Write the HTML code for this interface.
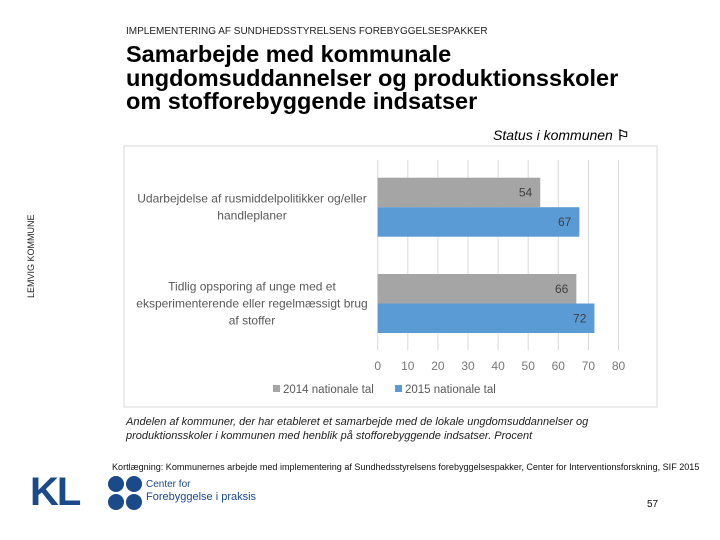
<!DOCTYPE html>
<html><head><meta charset="utf-8"><style>
body{margin:0;width:720px;height:540px;background:#fff;font-family:"Liberation Sans",sans-serif;position:relative;overflow:hidden}
.a{position:absolute}
</style></head><body>
<div class="a" style="left:126px;top:26px;font-size:10px;color:#222">IMPLEMENTERING AF SUNDHEDSSTYRELSENS FOREBYGGELSESPAKKER</div>
<div class="a" style="left:126px;top:43px;font-size:23.5px;font-weight:bold;line-height:23.5px;color:#000">Samarbejde med kommunale<br>ungdomsuddannelser og produktionsskoler<br>om stofforebyggende indsatser</div>
<div class="a" style="left:493px;top:127px;font-size:14px;font-style:italic;color:#000">Status i kommunen <span style="font-style:normal;font-weight:bold">⚐</span></div>
<div class="a" style="left:26px;top:298px;font-size:9px;transform:rotate(-90deg);transform-origin:0 0;color:#222">LEMVIG KOMMUNE</div>
<svg class="a" style="left:0;top:0" width="720" height="540">
<rect x="124" y="146" width="533" height="261" fill="#fff" stroke="#d9d9d9"/>
<g id="g"></g>
</svg>
<div class="a" style="left:126px;top:415px;font-size:11px;font-style:italic;line-height:14px;color:#222">Andelen af kommuner, der har etableret et samarbejde med de lokale ungdomsuddannelser og<br>produktionsskoler i kommunen med henblik på stofforebyggende indsatser. Procent</div>
<div class="a" style="left:112px;top:462px;font-size:9.05px;color:#111">Kortlægning: Kommunernes arbejde med implementering af Sundhedsstyrelsens forebyggelsespakker, Center for Interventionsforskning, SIF 2015</div>
<div class="a" style="left:30px;top:470px;font-size:40px;font-weight:bold;color:#1a4a8a;letter-spacing:-2px">KL</div>
<svg class="a" style="left:107px;top:475px" width="36" height="36"><g fill="#1a4a8a"><circle cx="9" cy="9" r="8"/><circle cx="27" cy="9" r="8"/><circle cx="9" cy="27" r="8"/><circle cx="27" cy="27" r="8"/></g></svg>
<div class="a" style="left:146px;top:479px;font-size:10px;line-height:12px;color:#1a4a8a">Center for<br><span style="font-size:11px">Forebyggelse i praksis</span></div>
<div class="a" style="left:647px;top:499px;font-size:10px;color:#111">57</div>
<script>
const categories=["Udarbejdelse af rusmiddelpolitikker og/eller\nhandleplaner","Tidlig opsporing af unge med et\neksperimenterende eller regelmæssigt brug\naf stoffer"];
const series2014=[54,66];
const series2015=[67,72];
const ticks=[0,10,20,30,40,50,60,70,80];
const seriesNames=["2014 nationale tal","2015 nationale tal"];
const colors=["#a5a5a5","#5b9bd5"];
const g=document.getElementById('g');
const NS="http://www.w3.org/2000/svg";
const x=v=>377.7+v*3.01;
const groupTop=[177.7,274];
const bh=29.5;
function el(t,a,txt){const e=document.createElementNS(NS,t);for(const k in a)e.setAttribute(k,a[k]);if(txt!=null)e.textContent=txt;g.appendChild(e);return e;}
ticks.forEach(t=>{
 const l=el('line',{x1:x(t),x2:x(t),y1:160,y2:350,stroke:'#d9d9d9'});
 
 
 const tx=el('text',{x:x(t),y:370,'text-anchor':'middle','font-size':12,fill:'#777'},t);
 
 
});
categories.forEach((c,i)=>{
 [series2014,series2015].forEach((s,j)=>{
  const y=groupTop[i]+j*bh;
  const r=el('rect',{x:x(0),y:y,width:x(s[i])-x(0),height:bh,fill:colors[j]});
  
  
  const t=el('text',{x:x(s[i])-8,y:y+bh/2+4,'text-anchor':'end','font-size':12,fill:'#404040'},s[i]);
  
  
 });
 const lines=c.split('\n');
 const cy=groupTop[i]+bh-(lines.length-1)*8.5;
 lines.forEach((ln,k)=>{
  const t=el('text',{x:252,y:cy+k*17+4,'text-anchor':'middle','font-size':12,fill:'#595959'},ln);
  
  
 });
});
seriesNames.forEach((n,j)=>{
 const lx=[273,395][j];
 const r=el('rect',{x:lx,y:385,width:7,height:7,fill:colors[j]});
 
 
 const t=el('text',{x:lx+10,y:393,'font-size':11.5,fill:'#595959'},n);
 
 
});
</script>
</body></html>
